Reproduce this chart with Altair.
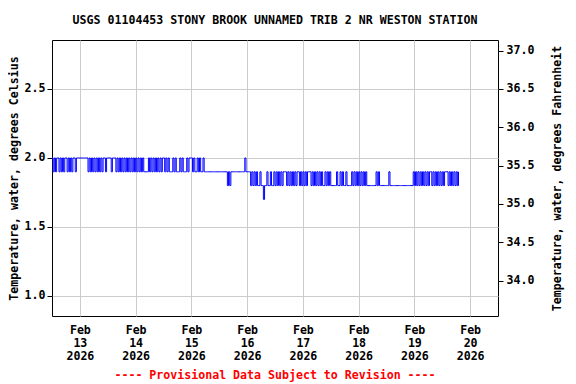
import altair as alt
import pandas as pd

# Readings (30-minute steps). Each segment: start time + string of level codes.
code_value = {"0": 2.0, "9": 1.9, "8": 1.8, "7": 1.7}

seg_start = [
    "2026-02-12T12:00", "2026-02-12T23:00", "2026-02-13T03:30", "2026-02-13T12:00",
    "2026-02-13T15:30", "2026-02-14T03:30", "2026-02-14T05:30", "2026-02-14T15:00",
    "2026-02-15T05:30", "2026-02-15T15:30", "2026-02-15T17:00", "2026-02-15T23:00",
    "2026-02-16T01:30", "2026-02-16T05:30", "2026-02-16T11:30", "2026-02-17T09:00",
    "2026-02-17T12:30", "2026-02-17T20:30", "2026-02-18T03:30", "2026-02-18T07:30",
    "2026-02-18T09:30", "2026-02-18T13:00", "2026-02-18T14:00", "2026-02-18T23:30",
]
seg_pattern = [
    "0909009090900909090090", "000000000", "90909090909090090", "0009000",
    "909090909090909090909090", "9999", "0909090909090090909", "99090999090999090009099090990",
    "99999999999999999999", "898", "999999999999", "09999",
    "89898988", "988788988988", "9898989899989898989899898989899989898989898", "8989898",
    "8888988989889888", "89898989898989", "88888888", "9898",
    "8888888", "98", "8888888888888888888", "9898989898989899898989898989998989898989",
]

title_text = "USGS 01104453 STONY BROOK UNNAMED TRIB 2 NR WESTON STATION"
footer_text = ["---- Provisional Data Subject to Revision ----"]
c_ticks = [1.0, 1.5, 2.0, 2.5]
f_ticks = [34.0, 34.5, 35.0, 35.5, 36.0, 36.5, 37.0]
day_ticks = [13, 14, 15, 16, 17, 18, 19, 20]

rows = []
for start, pat in zip(seg_start, seg_pattern):
    t0 = pd.Timestamp(start)
    for i, ch in enumerate(pat):
        rows.append({"time": (t0 + pd.Timedelta(minutes=30 * i)).strftime("%Y-%m-%dT%H:%M:%S"),
                     "temp": code_value[ch]})
df = pd.DataFrame(rows)

FONT = "DejaVu Sans Mono"
FS = 11.6
c_dom = [0.855, 2.855]
f_dom = [c_dom[0] * 1.8 + 32, c_dom[1] * 1.8 + 32]

x_enc = alt.X(
    "time:T",
    scale=alt.Scale(domain=[alt.DateTime(year=2026, month=2, date=12, hours=12),
                            alt.DateTime(year=2026, month=2, date=20, hours=12)]),
    axis=alt.Axis(
        values=[alt.DateTime(year=2026, month=2, date=d) for d in day_ticks],
        labelExpr="[timeFormat(datum.value,'%b'), timeFormat(datum.value,'%d'), timeFormat(datum.value,'%Y')]",
        title=None, grid=True, gridColor="#cccccc", ticks=False, domain=False,
        labelFont=FONT, labelFontSize=FS, labelFontWeight="bold", labelColor="black",
        labelPadding=14, labelLineHeight=13, labelBaseline="middle",
    ),
)

base = alt.Chart(df)

line_c = base.mark_line(color="#0000ff", strokeWidth=1, clip=True,
                        interpolate="step-after").encode(
    x=x_enc,
    y=alt.Y("temp:Q",
            scale=alt.Scale(domain=c_dom, nice=False, zero=False),
            axis=alt.Axis(values=c_ticks, format=".1f",
                          title="Temperature, water, degrees Celsius",
                          grid=True, gridColor="#cccccc", tickSize=5, tickColor="black",
                          domain=False, labelFont=FONT, labelFontSize=FS,
                          labelFontWeight="bold", labelColor="black", labelPadding=2,
                          titleFont=FONT, titleFontSize=FS, titleFontWeight="bold",
                          titleColor="black", titlePadding=5)),
)

line_f = base.transform_calculate(tf="datum.temp * 1.8 + 32").mark_line(
    strokeOpacity=0).encode(
    x=x_enc,
    y=alt.Y("tf:Q",
            scale=alt.Scale(domain=f_dom, nice=False, zero=False),
            axis=alt.Axis(orient="right", values=f_ticks, format=".1f",
                          title="Temperature, water, degrees Fahrenheit",
                          grid=False, tickSize=5, tickColor="black", domain=False,
                          labelFont=FONT, labelFontSize=FS, labelFontWeight="bold",
                          labelColor="black", labelPadding=3,
                          titleFont=FONT, titleFontSize=FS, titleFontWeight="bold",
                          titleColor="black", titlePadding=29, titleAngle=270)),
)

footer = alt.Chart(pd.DataFrame({"t": footer_text})).mark_text(
    font=FONT, fontSize=FS, fontWeight="bold", color="red", baseline="middle", align="center"
).encode(text="t:N", x=alt.value(223), y=alt.value(336))

chart = alt.layer(line_c, line_f, footer).resolve_scale(y="independent").properties(
    width=446, height=276,
    padding={"left": 44, "top": 32, "right": 70, "bottom": 70},
    autosize="none",
    title=alt.TitleParams(title_text, font=FONT, fontSize=FS, fontWeight="bold",
                          color="black", offset=13, anchor="middle"),
).configure_view(stroke="black", strokeWidth=1)

chart.save("out.html", embed_options={"renderer": "svg", "actions": False})
